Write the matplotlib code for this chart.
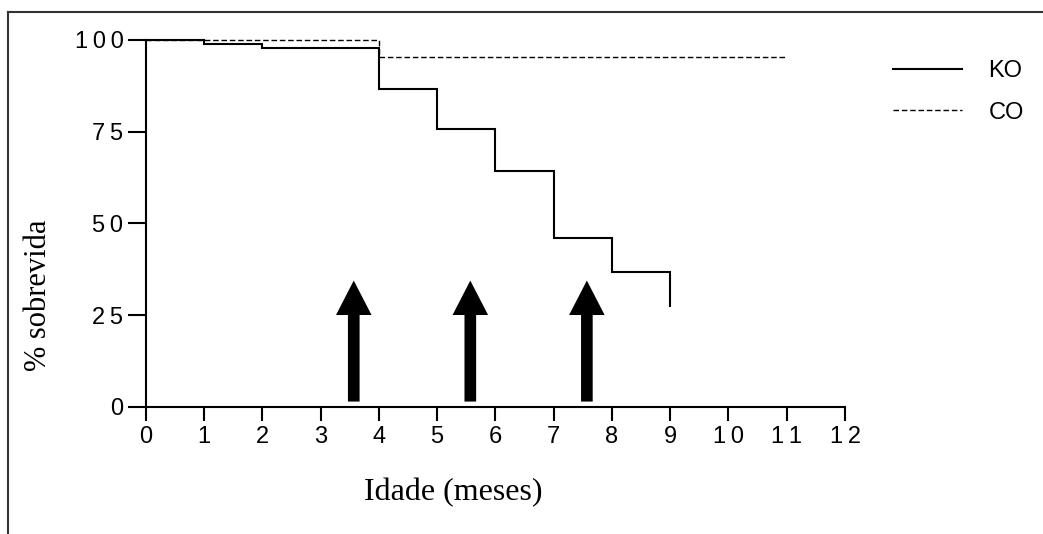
import numpy as np
import matplotlib
matplotlib.use("Agg")
import matplotlib.pyplot as plt
from matplotlib.lines import Line2D

# survival data (months, % surviving)
ko_t = [0, 1, 2, 4, 5, 6, 7, 8, 9]
ko_s = [100, 99.0, 97.7, 86.7, 75.6, 64.4, 45.9, 36.8, 27.5]
co_t = [0, 4, 11]
co_s = [100, 95.3, 95.3]
arrow_x = [3.57, 5.57, 7.57]
arrow_y0 = 1.4
arrow_y1 = 34.4

xticks = list(range(0, 13))
yticks = [0, 25, 50, 75, 100]
sp = "\u2009"
xlabels = [sp.join(str(v)) for v in xticks]
ylabels = [sp.join(str(v)) for v in yticks]

plt.rcParams["font.family"] = ["Liberation Sans", "DejaVu Sans"]
serif = ["Liberation Serif", "DejaVu Serif"]

fig = plt.figure(figsize=(10.43, 5.34), dpi=100)
ax = fig.add_axes([0.1397, 0.2384, 0.8102 - 0.1397, 0.9251 - 0.2384])

# KM curves as steps, last point of KO is a drop only
kx = [ko_t[0]]
ky = [ko_s[0]]
for i in range(1, len(ko_t)):
    kx += [ko_t[i], ko_t[i]]
    ky += [ko_s[i - 1], ko_s[i]]
ax.plot(kx, ky, color="black", lw=1.5, clip_on=False, label="KO", solid_joinstyle="miter")
ax.step(co_t, co_s, where="post", color="black", lw=1.0, ls=(0, (4, 2)), clip_on=False, label="CO")

for x in arrow_x:
    ax.arrow(x, arrow_y0, 0, arrow_y1 - arrow_y0, width=0.2, head_width=0.61,
             head_length=9.4, length_includes_head=True, color="black", lw=0)

ax.set_xlim(0, 12)
ax.set_ylim(0, 100)
ax.set_xticks(xticks, xlabels)
ax.set_yticks(yticks, ylabels)
ax.tick_params(axis="x", direction="out", length=10, width=1.5, pad=4, labelsize=17)
ax.tick_params(axis="y", direction="out", length=13, width=1.5, pad=3, labelsize=17)
for s in ["top", "right"]:
    ax.spines[s].set_visible(False)
for s in ["left", "bottom"]:
    ax.spines[s].set_linewidth(1.5)

fig.text(453 / 1043, 1 - 493 / 534, "Idade (meses)", family=serif, fontsize=23,
         ha="center", va="center")
fig.text(39 / 1043, 1 - 295 / 534, "% sobrevida", family=serif, fontsize=22,
         rotation=90, ha="center", va="center")

leg = ax.legend(loc="upper left", bbox_to_anchor=(893 / 1043, 1 - 60 / 534),
                bbox_transform=fig.transFigure, frameon=False, prop={"size": 17},
                handlelength=2.92, handletextpad=1.13, labelspacing=0.83, borderpad=0, borderaxespad=0)

# outer frame (only top and left visible)
fig.add_artist(Line2D([8 / 1043, 1], [1 - 12 / 534, 1 - 12 / 534], color="#333333", lw=1.5))
fig.add_artist(Line2D([8 / 1043, 8 / 1043], [0, 1 - 12 / 534], color="#333333", lw=1.5))

fig.savefig("out.png", dpi=100)
